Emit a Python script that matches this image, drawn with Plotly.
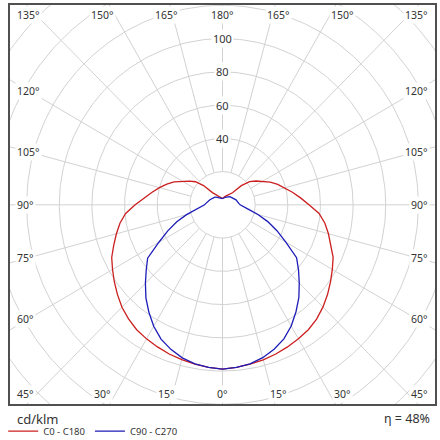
import numpy as np
import plotly.graph_objects as go

# luminous intensity in cd/klm, gamma angle 0..180 (0 = straight down)
gamma = list(range(0, 181, 5))
c0 = [98.8, 98.2, 97.3, 96.5, 95.5, 94.3, 93.0, 91.7, 89.7, 87.0, 84.0, 80.8,
      77.7, 74.8, 70.8, 67.2, 63.7, 59.4, 53.0, 48.0, 43.5, 39.5, 36.0, 32.3,
      27.8, 25.0, 21.7, 16.3, 9.5, 8.2, 7.2, 6.3, 5.6, 5.0, 4.4, 4.0, 3.8]
c180 = [98.8, 98.2, 97.3, 96.4, 95.5, 94.3, 93.1, 91.7, 89.6, 87.1, 84.0, 80.9,
        77.8, 74.9, 70.9, 67.3, 63.8, 59.6, 53.5, 48.3, 43.8, 40.0, 36.3, 32.8,
        28.0, 24.8, 21.6, 16.4, 9.6, 8.3, 7.2, 6.3, 5.6, 5.0, 4.4, 4.0, 3.8]
c90 = [98.8, 98.2, 97.1, 95.2, 92.4, 89.0, 84.2, 78.5, 72.8, 66.5, 60.8, 55.4,
       44.8, 36.8, 29.5, 22.5, 16.5, 12.5, 10.8, 10.0, 9.7, 9.1, 8.8, 8.2,
       7.9, 7.5, 7.1, 6.8, 6.4, 6.0, 5.6, 5.2, 4.8, 4.4, 4.1, 3.9, 3.8]
c270 = [98.8, 98.2, 97.1, 95.3, 92.5, 89.1, 84.3, 78.7, 73.0, 66.8, 61.0, 56.0,
        45.0, 37.0, 29.8, 22.8, 17.0, 13.0, 11.0, 10.2, 9.5, 9.0, 8.4, 7.9,
        7.6, 7.2, 6.8, 6.5, 6.1, 5.8, 5.5, 5.1, 4.8, 4.4, 4.1, 3.9, 3.8]

rings = [20, 40, 60, 80, 100, 120, 140, 160, 180]
ring_labels = [40, 60, 80, 100]
angle_marks = list(range(0, 181, 15))
eta = "η = 48%"
unit = "cd/klm"

grid_col = "#d2d2d2"
txt_col = "#333333"
font_fam = "Noto Sans"

# the photo of the page comes out a bit squeezed vertically, so draw a bit taller
W, H = 440, 449
k = H / 440.0
mt = 3
mb = H - round(403 * k)
ph = H - mt - mb


def half(vals, side):
    g = np.radians(gamma)
    r = np.array(vals)
    return side * r * np.sin(g), -r * np.cos(g)


def plane(left_vals, right_vals):
    xl, yl = half(left_vals, -1)
    xr, yr = half(right_vals, 1)
    return np.concatenate([xl[::-1], xr[1:]]), np.concatenate([yl[::-1], yr[1:]])


def below(py):
    # paper y for a reference pixel row under the plot area
    return ((H - mb) - py * k) / ph


fig = go.Figure()

# grid rings
t = np.linspace(0, 2 * np.pi, 361)
gx, gy = [], []
for r in rings:
    gx += list(r * np.cos(t)) + [None]
    gy += list(r * np.sin(t)) + [None]
# radial lines every 15 deg, starting at the first ring
for a in range(0, 360, 15):
    ar = np.radians(a)
    gx += [20 * np.sin(ar), 220 * np.sin(ar), None]
    gy += [-20 * np.cos(ar), -220 * np.cos(ar), None]
fig.add_trace(go.Scatter(x=gx, y=gy, mode='lines', line=dict(color=grid_col, width=1),
                         hoverinfo='skip', showlegend=False))

x1, y1 = plane(c180, c0)
fig.add_trace(go.Scatter(x=x1, y=y1, mode='lines', name='C0 - C180',
                         line=dict(color='#cc1f1f', width=1.3)))
x2, y2 = plane(c270, c90)
fig.add_trace(go.Scatter(x=x2, y=y2, mode='lines', name='C90 - C270',
                         line=dict(color='#1c1cb8', width=1.3)))

ann = []
for v in ring_labels:
    ann.append(dict(x=0, y=v, text=str(v), showarrow=False, bgcolor='white',
                    borderpad=1, font=dict(size=11, color=txt_col, family=font_fam)))

# angle labels around the frame
top_y, bot_y, side_x = 114.2, -113.8, 127.2
for side in (-1, 1):
    for g in angle_marks:
        if g in (0, 180) and side == -1:
            continue
        lab = "%d°" % g
        d = dict(text=lab, showarrow=False, bgcolor='white', borderpad=1,
                 font=dict(size=10.5, color=txt_col, family=font_fam))
        if g in (45, 135):
            d.update(x=side * side_x, y=top_y if g == 135 else bot_y,
                     xanchor='left' if side < 0 else 'right')
        elif g < 45:
            d.update(x=side * 127.8 * np.tan(np.radians(g)), y=bot_y)
        elif g > 135:
            d.update(x=side * 127.8 * np.tan(np.radians(180 - g)), y=top_y)
        else:
            d.update(x=side * side_x, y=118.8 * np.tan(np.radians(g - 90)),
                     xanchor='left' if side < 0 else 'right')
        ann.append(d)

ann.append(dict(xref='paper', yref='paper', x=0.012, y=below(418), xanchor='left', yanchor='middle',
                text=unit, showarrow=False, font=dict(size=13, color=txt_col, family=font_fam)))
ann.append(dict(xref='paper', yref='paper', x=0.993, y=below(417), xanchor='right', yanchor='middle',
                text=eta, showarrow=False, font=dict(size=12.5, color=txt_col, family=font_fam)))

ax = dict(showgrid=False, zeroline=False, showticklabels=False, ticks='',
          showline=True, mirror=True, linecolor='#505050', linewidth=1.5, fixedrange=True)
fig.update_layout(
    width=W, height=H,
    margin=dict(l=3, r=3, t=mt, b=mb),
    paper_bgcolor='white', plot_bgcolor='white',
    xaxis=dict(range=[-130.2, 130.2], **ax),
    yaxis=dict(range=[-119.8, 120.2], **ax),
    annotations=ann,
    legend=dict(orientation='h', x=-0.016, xanchor='left', y=below(430), yanchor='middle',
                font=dict(size=9.5, color=txt_col, family=font_fam),
                itemwidth=30, tracegroupgap=0, bgcolor='rgba(0,0,0,0)'),
    showlegend=True,
)

# page body has a default 8px margin, drop it so the figure fills the window
fig.write_html("out.html", config={'displayModeBar': False},
               post_script="document.body.style.margin='0';")
